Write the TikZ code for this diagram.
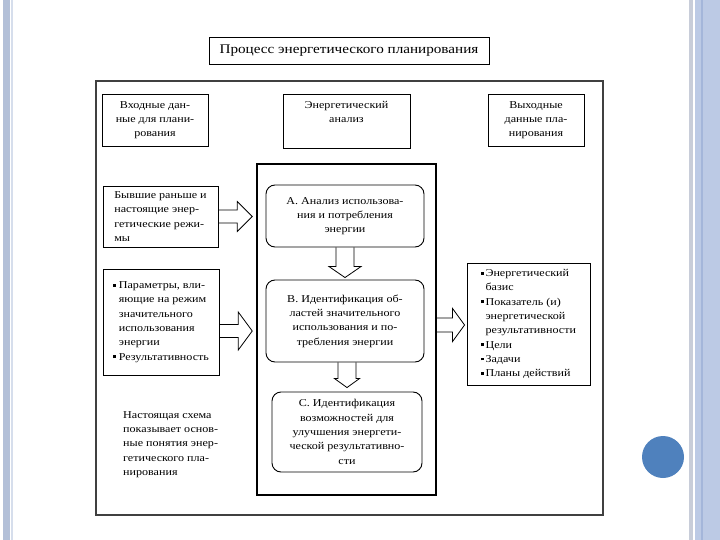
\documentclass[tikz,border=0pt]{standalone}
\usepackage{fontspec}
\setmainfont{Liberation Serif}[FakeStretch=1.15]
\usetikzlibrary{calc}
\definecolor{barA}{HTML}{B3C0D8}
\definecolor{barB}{HTML}{D6DEEC}
\definecolor{barC}{HTML}{C8CDD9}
\definecolor{barD}{HTML}{BCCAE5}
\definecolor{barE}{HTML}{A4B6DA}
\definecolor{dotblue}{HTML}{4F81BD}
\newcommand\bul{\rule[2pt]{2.8pt}{2.8pt}}
% right block arrow: #1 tail coordinate, #2 tip coordinate (same height), #3 half shaft, #4 half head, #5 head length
\newcommand\blockright[5]{%
  \draw[blockarr] ($(#1)+(0,-#3)$) -- ($(#2)+(-#5,-#3)$) -- ($(#2)+(-#5,-#4)$) -- (#2)
    -- ($(#2)+(-#5,#4)$) -- ($(#2)+(-#5,#3)$) -- ($(#1)+(0,#3)$);}
% down block arrow (y axis points down)
\newcommand\blockdown[5]{%
  \draw[blockarr] ($(#1)+(#3,0)$) -- ($(#2)+(#3,-#5)$) -- ($(#2)+(#4,-#5)$) -- (#2)
    -- ($(#2)+(-#4,-#5)$) -- ($(#2)+(-#3,-#5)$) -- ($(#1)+(-#3,0)$);}
\begin{document}
\begin{tikzpicture}[x=1pt,y=-1pt,
  txt/.style={font=\fontsize{10.5}{14.3}\selectfont, inner sep=0pt},
  sqbox/.style={txt, draw, line width=0.9pt, align=center},
  lbox/.style={txt, draw, line width=0.9pt, align=left},
  rbox/.style={txt, draw, line width=0.9pt, rounded corners=9pt, align=center},
  blockarr/.style={draw, line width=0.8pt, line join=miter}]
\useasboundingbox (0,0) rectangle (720,540);
% slide decorations
\fill[barA] (2.5,0) rectangle (9.5,540);
\fill[barB] (10.5,0) rectangle (12.5,540);
\fill[barC] (689,0) rectangle (693,540);
\fill[barD] (694.5,0) rectangle (720,540);
\fill[barE] (701,0) rectangle (703,540);
\fill[dotblue] (663,457) circle (21);
% outer frame
\node[draw=black!75, line width=1.2pt, minimum width=507, minimum height=434, inner sep=0pt] (frame) at (349.5,298) {};
% title
\node[draw, line width=0.9pt, minimum width=280, minimum height=27, inner sep=0pt,
      font=\fontsize{13.2}{16}\selectfont] (title) at (349,50.5) {Процесс энергетического планирования};
% headers
\node[sqbox, minimum width=106, minimum height=52] (hin) at (155,120) {Входные дан-\\ные для плани-\\рования};
\node[sqbox, minimum width=127, minimum height=54] (han) at (346.5,121) {Энергетический\\анализ\\\strut};
\node[sqbox, minimum width=96, minimum height=52] (hout) at (536,120) {Выходные\\данные пла-\\нирования};
% central frame
\node[draw, line width=1.5pt, minimum width=179, minimum height=331, inner sep=0pt] (M) at (346.5,329.5) {};
\node[rbox, minimum width=158, minimum height=62] (A) at (345,216) {A. Анализ использова-\\ния и потребления\\энергии};
\node[rbox, minimum width=158, minimum height=82] (B) at (345,321) {B. Идентификация об-\\ластей значительного\\использования и по-\\требления энергии};
\node[rbox, minimum width=150, minimum height=80] (C) at (347,432) {C. Идентификация\\возможностей для\\улучшения энергети-\\ческой результативно-\\сти};
% left boxes
\node[lbox, minimum width=115, minimum height=61] (L1) at (160.5,216.5) {Бывшие раньше и\\настоящие энер-\\гетические режи-\\мы};
\node[lbox, minimum width=116, minimum height=106] (L2) at (161,322) {\bul\ Параметры, вли-\\\hphantom{\bul\ }яющие на режим\\\hphantom{\bul\ }значительного\\\hphantom{\bul\ }использования\\\hphantom{\bul\ }энергии\\\bul\ Результативность};
% right box
\node[lbox, minimum width=123, minimum height=122] (R) at (528.5,324) {\bul\,Энергетический\\\hphantom{\bul\,}базис\\\bul\,Показатель (и)\\\hphantom{\bul\,}энергетической\\\hphantom{\bul\,}результативности\\\bul\,Цели\\\bul\,Задачи\\\bul\,Планы действий};
% note
\node[txt, align=left, anchor=west] (note) at (123,444.5) {Настоящая схема\\показывает основ-\\ные понятия энер-\\гетического пла-\\нирования};
% arrow end points
\coordinate (t1) at (L1.east);
\coordinate (h1) at ($(M.west |- L1.east)+(-4,0)$);
\coordinate (t2) at ($(L2.east)+(0,9)$);
\coordinate (h2) at ($(M.west |- t2)+(-4,0)$);
\coordinate (t3) at ($(M.east)+(0,-4.5)$);
\coordinate (h3) at ($(R.west |- t3)+(-2,0)$);
\coordinate (t4) at (A.south);
\coordinate (h4) at ($(B.north)+(0,-2)$);
\coordinate (t5) at ($(B.south)+(2,0)$);
\coordinate (h5) at ($(C.north)+(0,-4)$);
% arrows
\blockright{t1}{h1}{6.5}{15}{15}
\blockright{t2}{h2}{6.5}{19}{14}
\blockright{t3}{h3}{7}{16.5}{12}
\blockdown{t4}{h4}{9}{16}{11}
\blockdown{t5}{h5}{9}{12.5}{9}
\end{tikzpicture}
\end{document}
